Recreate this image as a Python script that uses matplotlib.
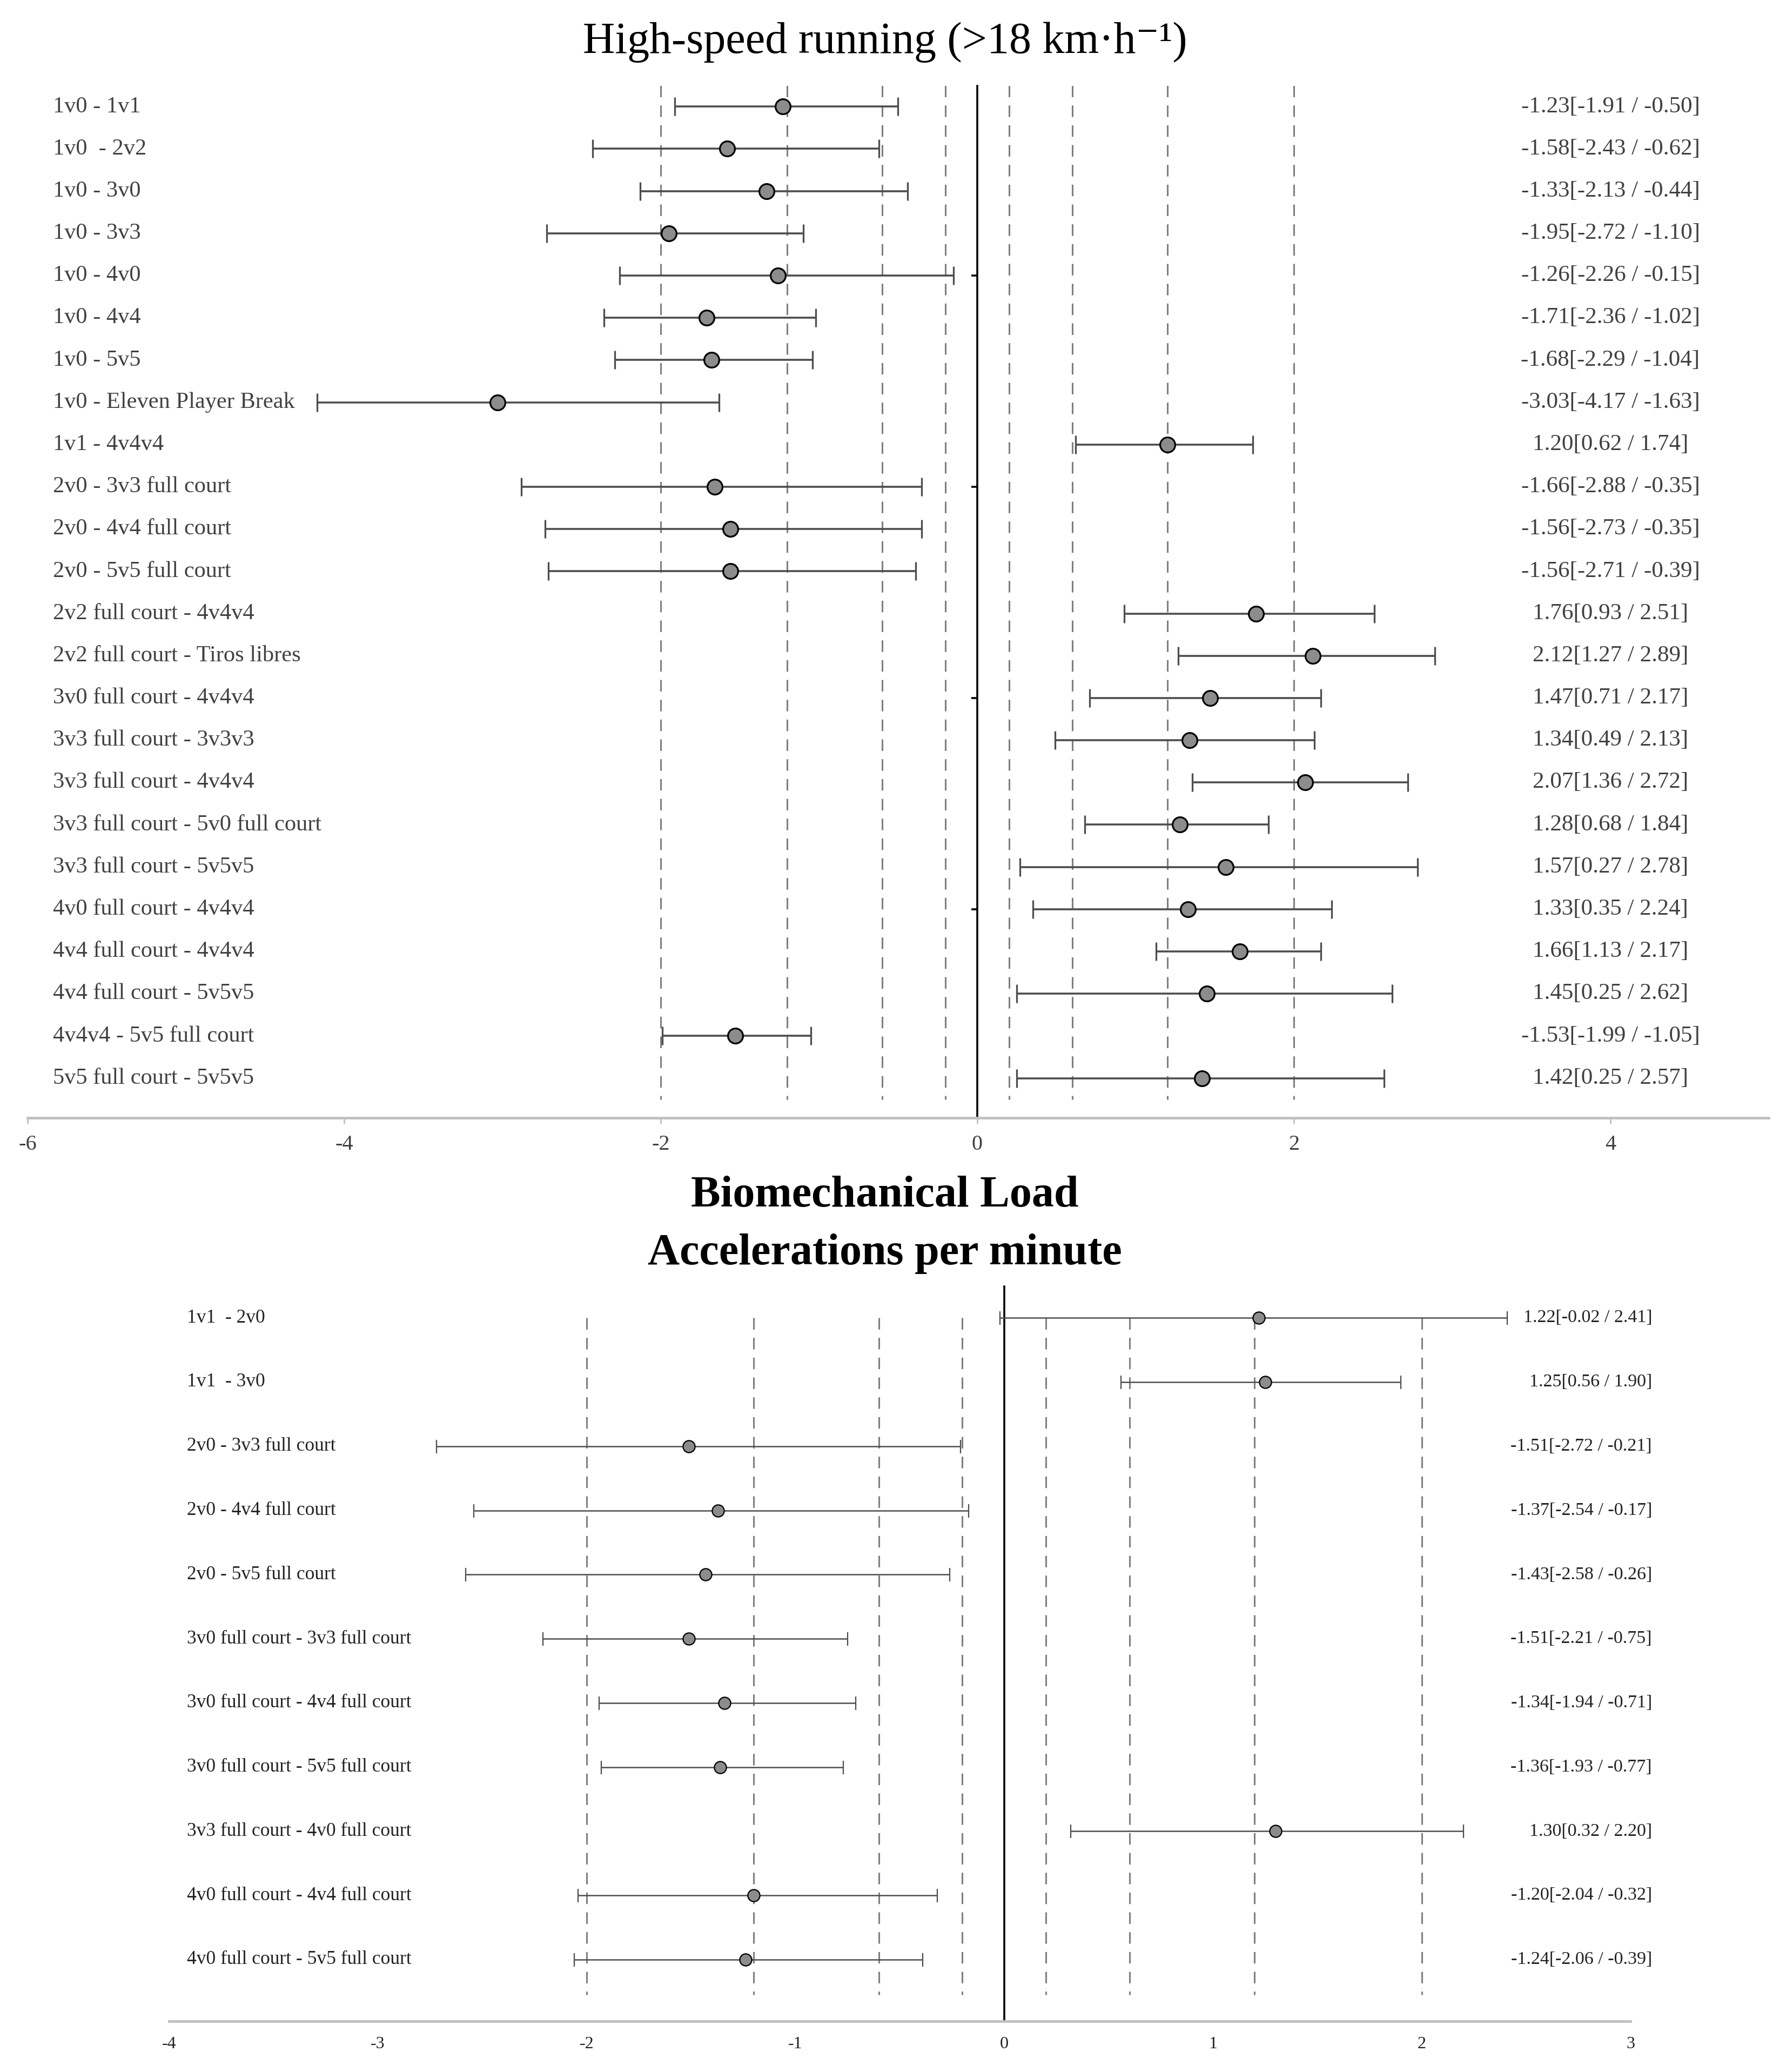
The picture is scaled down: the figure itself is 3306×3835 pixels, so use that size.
import numpy as np
import matplotlib.pyplot as plt
from matplotlib.transforms import blended_transform_factory

# High-speed running panel
hsr_labels = [
    "1v0 - 1v1", "1v0  - 2v2", "1v0 - 3v0", "1v0 - 3v3", "1v0 - 4v0",
    "1v0 - 4v4", "1v0 - 5v5", "1v0 - Eleven Player Break", "1v1 - 4v4v4",
    "2v0 - 3v3 full court", "2v0 - 4v4 full court", "2v0 - 5v5 full court",
    "2v2 full court - 4v4v4", "2v2 full court - Tiros libres",
    "3v0 full court - 4v4v4", "3v3 full court - 3v3v3",
    "3v3 full court - 4v4v4", "3v3 full court - 5v0 full court",
    "3v3 full court - 5v5v5", "4v0 full court - 4v4v4",
    "4v4 full court - 4v4v4", "4v4 full court - 5v5v5",
    "4v4v4 - 5v5 full court", "5v5 full court - 5v5v5",
]
hsr_est = [-1.23, -1.58, -1.33, -1.95, -1.26, -1.71, -1.68, -3.03, 1.20,
           -1.66, -1.56, -1.56, 1.76, 2.12, 1.47, 1.34, 2.07, 1.28, 1.57,
           1.33, 1.66, 1.45, -1.53, 1.42]
hsr_lo = [-1.91, -2.43, -2.13, -2.72, -2.26, -2.36, -2.29, -4.17, 0.62,
          -2.88, -2.73, -2.71, 0.93, 1.27, 0.71, 0.49, 1.36, 0.68, 0.27,
          0.35, 1.13, 0.25, -1.99, 0.25]
hsr_hi = [-0.50, -0.62, -0.44, -1.10, -0.15, -1.02, -1.04, -1.63, 1.74,
          -0.35, -0.35, -0.39, 2.51, 2.89, 2.17, 2.13, 2.72, 1.84, 2.78,
          2.24, 2.17, 2.62, -1.05, 2.57]

# Accelerations per minute panel
acc_labels = [
    "1v1  - 2v0", "1v1  - 3v0", "2v0 - 3v3 full court",
    "2v0 - 4v4 full court", "2v0 - 5v5 full court",
    "3v0 full court - 3v3 full court", "3v0 full court - 4v4 full court",
    "3v0 full court - 5v5 full court", "3v3 full court - 4v0 full court",
    "4v0 full court - 4v4 full court", "4v0 full court - 5v5 full court",
]
acc_est = [1.22, 1.25, -1.51, -1.37, -1.43, -1.51, -1.34, -1.36, 1.30,
           -1.20, -1.24]
acc_lo = [-0.02, 0.56, -2.72, -2.54, -2.58, -2.21, -1.94, -1.93, 0.32,
          -2.04, -2.06]
acc_hi = [2.41, 1.90, -0.21, -0.17, -0.26, -0.75, -0.71, -0.77, 2.20,
          -0.32, -0.39]

ref_lines = [-2, -1.2, -0.6, -0.2, 0.2, 0.6, 1.2, 2]
hsr_ticks = [-6, -4, -2, 0, 2, 4]
acc_ticks = [-4, -3, -2, -1, 0, 1, 2, 3]

W, H = 3306, 3835
SERIF = ["Liberation Serif", "DejaVu Serif"]
plt.rcParams["font.family"] = SERIF


def fmt(e, l, h):
    return f"{e:.2f}[{l:.2f} / {h:.2f}]"


def panel(fig, rect, labels, est, lo, hi, xlim, ylim, ticks, dash_span,
          lab_x, val_x, val_ha, fs, val_fs, tick_fs, ms, lw, cap, txt_color):
    ax = fig.add_axes(rect)
    rows = np.arange(len(labels))
    est = np.array(est)
    lo = np.array(lo)
    hi = np.array(hi)
    ax.vlines(ref_lines, dash_span[0], dash_span[1], colors="#7f7f7f",
              linestyles=(0, (7, 5)), lw=2.2, zorder=1)
    ax.errorbar(est, rows, xerr=[est - lo, hi - est], fmt="o",
                color="#4d4d4d", ecolor="#4d4d4d", elinewidth=lw,
                capsize=cap, capthick=lw, ms=ms, mfc="#8c8c8c",
                mec="black", mew=lw * 0.9, zorder=3)
    ax.set_xlim(xlim)
    ax.set_ylim(ylim)
    for s in ["top", "right"]:
        ax.spines[s].set_visible(False)
    ax.spines["left"].set_position(("data", 0))
    ax.spines["left"].set_color("black")
    ax.spines["left"].set_linewidth(2.6)
    ax.spines["left"].set_zorder(2)
    ax.spines["bottom"].set_color("#c0c0c0")
    ax.spines["bottom"].set_linewidth(3.5)
    ax.set_xticks(ticks)
    ax.set_xticklabels([str(t) for t in ticks])
    ax.tick_params(axis="x", labelsize=tick_fs, colors="#c0c0c0",
                   labelcolor=txt_color, length=8, width=2, pad=14)
    trans = blended_transform_factory(fig.transFigure, ax.transData)
    for r, lab, e, l, h in zip(rows, labels, est, lo, hi):
        ax.text(lab_x, r, lab, transform=trans, ha="left", va="center",
                fontsize=fs, color=txt_color)
        ax.text(val_x, r, fmt(e, l, h), transform=trans, ha=val_ha,
                va="center", fontsize=val_fs, color=txt_color)
    return ax


fig = plt.figure(figsize=(W / 100, H / 100), dpi=100)

# top panel
ax1 = panel(fig, [51 / W, 1 - 2069 / H, (3274 - 51) / W, (2069 - 159) / H],
            hsr_labels, hsr_est, hsr_lo, hsr_hi, (-6, 5), (23.94, -0.49),
            hsr_ticks, (-0.5, 23.5), 98 / W, 2981 / W, "center",
            30.5, 31, 29, 20, 2.6, 12, "#404040")
ax1.set_yticks([4, 9, 14, 19])
ax1.set_yticklabels([])
ax1.tick_params(axis="y", direction="out", length=8, width=2.6,
                colors="black")

# bottom panel
ax2 = panel(fig, [313 / W, 1 - 3741 / H, (3018 - 313) / W, (3741 - 2381) / H],
            acc_labels, acc_est, acc_lo, acc_hi, (-4, 3), (10.96, -0.49),
            acc_ticks, (0, 10.55), 346 / W, 3058 / W, "right",
            25.5, 24.5, 23, 16, 1.8, 9, "#222222")
ax2.set_yticks([])
ax2.tick_params(axis="x", length=0, pad=20)

fig.text(1638 / W, 1 - 78 / H, "High-speed running (>18 km·h⁻¹)",
         ha="center", va="center", fontsize=59, color="black")
fig.text(1638 / W, 1 - 2214 / H, "Biomechanical Load", ha="center",
         va="center", fontsize=59, fontweight="bold", color="black")
fig.text(1638 / W, 1 - 2320 / H, "Accelerations per minute", ha="center",
         va="center", fontsize=59, fontweight="bold", color="black")

fig.savefig("out.png", dpi=100)
